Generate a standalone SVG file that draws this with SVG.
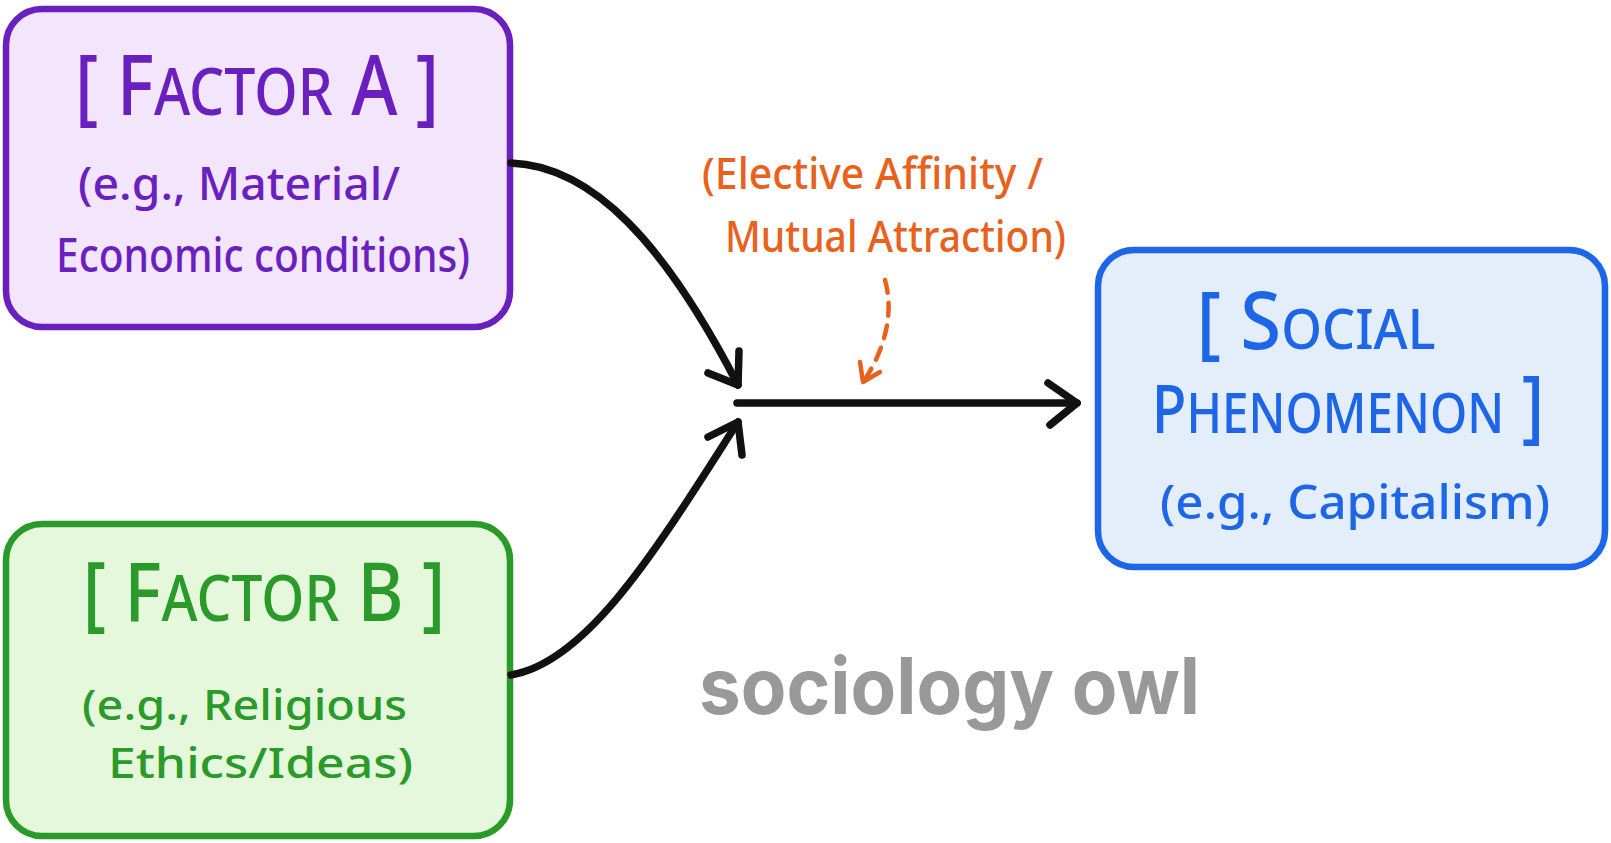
<svg xmlns="http://www.w3.org/2000/svg" width="1611" height="843" viewBox="0 0 1611 843">
<style>
.hand{font-family:"Noto Sans","DejaVu Sans",sans-serif;font-weight:500}
.title{text-anchor:middle}
.box{stroke-width:6.5}
.conn{fill:none;stroke:#111;stroke-width:7.5;stroke-linecap:round;stroke-linejoin:round}
.dash{fill:none;stroke:#e8621e;stroke-width:4.5;stroke-linecap:round;stroke-linejoin:round}
.purple{fill:#6a1fbf}
.green{fill:#2a9a2a}
.blue{fill:#1d66e8}
.orange{fill:#e8621e}
</style>
<rect width="1611" height="843" fill="#ffffff"/>
<g id="factor-a">
<rect class="box" x="6" y="9" width="504" height="318" rx="36" fill="#f3e5fb" stroke="#6a1fbf"/>
<text class="hand purple title" transform="translate(257,115) scale(0.84,1)" font-size="84">[ F<tspan font-size="66">ACTOR</tspan> A ]</text>
<text class="hand purple" x="78" y="200" font-size="46" textLength="322" lengthAdjust="spacingAndGlyphs">(e.g., Material/</text>
<text class="hand purple" x="56" y="272" font-size="47" textLength="414" lengthAdjust="spacingAndGlyphs">Economic conditions)</text>
</g>
<g id="factor-b">
<rect class="box" x="6" y="524" width="504" height="312" rx="36" fill="#e6f8dc" stroke="#2a9a2a"/>
<text class="hand green title" transform="translate(264,621) scale(0.86,1)" font-size="82">[ F<tspan font-size="64">ACTOR</tspan> B ]</text>
<text class="hand green" x="82" y="720" font-size="42" textLength="325" lengthAdjust="spacingAndGlyphs">(e.g., Religious</text>
<text class="hand green" x="108" y="778" font-size="42" textLength="305" lengthAdjust="spacingAndGlyphs">Ethics/Ideas)</text>
</g>
<g id="social-phenomenon">
<rect class="box" x="1098" y="250" width="507" height="317" rx="36" fill="#e4eefb" stroke="#1d66e8"/>
<text class="hand blue title" transform="translate(1316,349) scale(0.93,1)" font-size="80">[ S<tspan font-size="56">OCIAL</tspan></text>
<text class="hand blue title" transform="translate(1348,433) scale(0.85,1)" font-size="67">P<tspan font-size="56">HENOMENON</tspan><tspan font-size="80"> ]</tspan></text>
<text class="hand blue" x="1160" y="519" font-size="48" textLength="390" lengthAdjust="spacingAndGlyphs">(e.g., Capitalism)</text>
</g>
<g id="elective-affinity-label">
<text class="hand orange" x="702" y="189" font-size="44" textLength="341" lengthAdjust="spacingAndGlyphs">(Elective Affinity /</text>
<text class="hand orange" x="725" y="252" font-size="44" textLength="341" lengthAdjust="spacingAndGlyphs">Mutual Attraction)</text>
</g>
<g id="watermark">
<text x="699" y="714" font-family="Inter,'Noto Sans',sans-serif" font-weight="700" font-size="78" fill="#999999" textLength="501" lengthAdjust="spacingAndGlyphs">sociology owl</text>
</g>
<g id="connectors">
<path class="conn" d="M511,163 C594,166 666,246 738,385"/>
<path class="conn" d="M739,351 L738,385 L708,373"/>
<path class="conn" d="M511,675 C590,662 662,540 738,422"/>
<path class="conn" d="M708,437 L738,422 L742,455"/>
<path class="conn" d="M737,403 L1077,403"/>
<path class="conn" d="M1048,383 L1077,403 L1050,425"/>
<path class="dash" d="M885,280 C894,312 886,347 864,381" stroke-dasharray="13 10"/>
<path class="dash" d="M860,362 L863,382 L880,372"/>
</g>
</svg>
